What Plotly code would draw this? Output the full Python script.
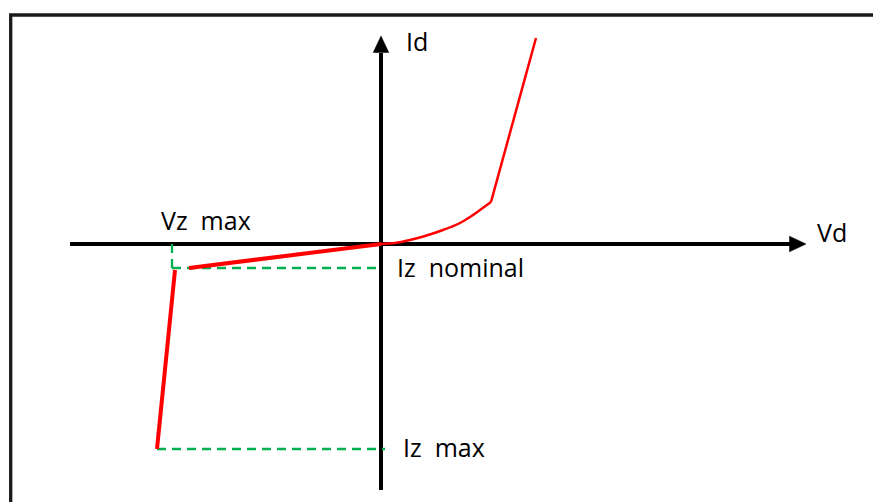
import plotly.graph_objects as go

# ---- data (Vd / Id in arbitrary units, origin at the axes crossing) ----
fwd_curve_v = [0.0, 1.4, 2.9, 4.4, 6.2, 7.7, 8.9, 9.9, 11.0]
fwd_curve_i = [0.0, 0.1, 0.4, 0.8, 1.4, 2.0, 2.7, 3.4, 4.2]
fwd_steep_v = [11.0, 15.5]
fwd_steep_i = [4.2, 20.6]

rev_slope_v = [0.0, -19.2]
rev_slope_i = [0.0, -2.4]
rev_break_v = [-20.6, -22.4]
rev_break_i = [-2.6, -20.5]

vz_max = -20.9
iz_nominal = -2.4
iz_max = -20.5
iz_max_v_end = [-22.4, 0.4]

xaxis_span = [-31.1, 40.9, 42.5]   # start, shaft end, tip
yaxis_span = [-24.6, 19.1, 20.8]

labels = ["Id", "Vd", "Vz  max", "Iz  nominal", "Iz  max"]
label_x = [2.3, 43.4, -22.2, 1.4, 2.0]
label_y = [20.3, 1.2, 2.4, -2.3, -20.25]

W, H = 873, 502
RED = "#ff0000"
GREEN = "#00b050"

fig = go.Figure()

# axes
fig.add_trace(go.Scatter(x=[xaxis_span[0], xaxis_span[1]], y=[0, 0], mode="lines",
                         line=dict(color="black", width=4)))
fig.add_trace(go.Scatter(x=[0, 0], y=[yaxis_span[0], yaxis_span[1]], mode="lines",
                         line=dict(color="black", width=4)))
# arrowheads (filled triangles)
hl, hw = 1.65, 0.78
fig.add_trace(go.Scatter(x=[xaxis_span[2], xaxis_span[2] - hl, xaxis_span[2] - hl, xaxis_span[2]],
                         y=[0, hw, -hw, 0], mode="lines", fill="toself",
                         fillcolor="black", line=dict(color="black", width=0.5)))
fig.add_trace(go.Scatter(x=[0, hw, -hw, 0],
                         y=[yaxis_span[2], yaxis_span[2] - hl, yaxis_span[2] - hl, yaxis_span[2]],
                         mode="lines", fill="toself",
                         fillcolor="black", line=dict(color="black", width=0.5)))

# green dashed guide lines
dash = dict(color=GREEN, width=2.3, dash="9px,6px")
fig.add_trace(go.Scatter(x=[vz_max, vz_max], y=[0, iz_nominal], mode="lines", line=dash))
fig.add_trace(go.Scatter(x=[vz_max, 0], y=[iz_nominal, iz_nominal], mode="lines", line=dash))
fig.add_trace(go.Scatter(x=iz_max_v_end, y=[iz_max, iz_max], mode="lines", line=dash))

# red characteristic
fig.add_trace(go.Scatter(x=fwd_curve_v, y=fwd_curve_i, mode="lines",
                         line=dict(color=RED, width=2.5, shape="spline")))
fig.add_trace(go.Scatter(x=fwd_steep_v, y=fwd_steep_i, mode="lines",
                         line=dict(color=RED, width=2.5)))
fig.add_trace(go.Scatter(x=rev_slope_v, y=rev_slope_i, mode="lines",
                         line=dict(color=RED, width=4)))
fig.add_trace(go.Scatter(x=rev_break_v, y=rev_break_i, mode="lines",
                         line=dict(color=RED, width=4)))

for t, x, y in zip(labels, label_x, label_y):
    fig.add_annotation(x=x, y=y, text=t, showarrow=False, xanchor="left", yanchor="middle",
                       font=dict(family="Open Sans", size=25, color="black"))

# picture frame (left and top edges visible)
fig.add_shape(type="rect", xref="paper", yref="paper",
              x0=10.7 / W, x1=1.05, y0=-0.05, y1=1 - 15 / H,
              line=dict(color="#1a1a1a", width=3.3), layer="above")

fig.update_layout(
    width=W, height=H, margin=dict(l=0, r=0, t=0, b=0),
    paper_bgcolor="white", plot_bgcolor="white", showlegend=False,
    xaxis=dict(range=[-381 / 10, (873 - 381) / 10], visible=False, fixedrange=True),
    yaxis=dict(range=[(244 - 502) / 10, 244 / 10], visible=False, fixedrange=True),
)
fig.write_html("out.html", config={"displayModeBar": False},
               post_script="document.body.style.margin='0';document.body.style.overflow='hidden';")
